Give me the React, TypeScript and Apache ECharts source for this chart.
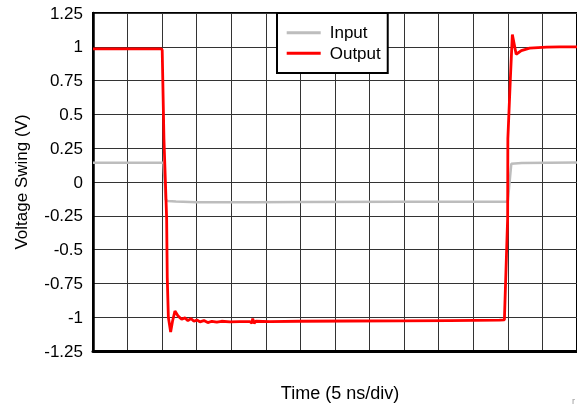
import React, { useEffect, useRef } from "react";
import * as echarts from "echarts";

const yTicks = [-1.25, -1, -0.75, -0.5, -0.25, 0, 0.25, 0.5, 0.75, 1, 1.25];

// time in ns (5 ns/div), value in V
const inputTime = [0, 10.2, 10.5, 10.8, 12, 15, 30, 45, 59.7, 60.0, 60.5, 62, 70];
const inputValue = [0.142, 0.142, -0.13, -0.14, -0.145, -0.15, -0.148, -0.147, -0.146, -0.14, 0.135, 0.14, 0.145];

const outputTime = [
  0, 9.9, 10.01, 10.26, 10.65, 10.74, 10.9, 11.23, 11.5, 11.85, 12.28, 12.82, 13.29, 13.73, 14.16,
  14.6, 15.03, 15.46, 16.04, 16.6, 17.2, 17.9, 18.6, 19.8, 21.2, 22.7, 22.98, 23.1, 23.3, 23.55,
  25.6, 29.9, 37.1, 44.4, 51.6, 58.8, 59.5, 59.97, 60.0, 60.36, 60.65, 61.2, 61.95, 63.15, 65.6,
  67.5, 70,
];
const outputValue = [
  0.985, 0.985, 0.975, 0.319, -0.267, -0.707, -1.0, -1.11, -1.03, -0.955, -0.99, -1.015, -1.005,
  -1.025, -1.01, -1.03, -1.02, -1.035, -1.025, -1.04, -1.03, -1.037, -1.03, -1.035, -1.033, -1.033,
  -1.045, -1.01, -1.045, -1.03, -1.032, -1.03, -1.028, -1.027, -1.025, -1.022, -1.02, -0.267, 0.319,
  0.76, 1.09, 0.945, 0.972, 0.99, 0.998, 1.0, 1.0,
];

const FONT = "'Liberation Sans', Arial, Helvetica, sans-serif";

export default function App() {
  const ref = useRef<HTMLDivElement>(null);
  useEffect(() => {
    if (!ref.current) return;
    const chart = echarts.init(ref.current, undefined, { renderer: "svg" });
    chart.setOption({
      animation: false,
      textStyle: { fontFamily: FONT },
      grid: {
        left: 93,
        top: 13,
        width: 484,
        height: 341,
        show: true,
        borderColor: "#000",
        borderWidth: 2,
      },
      legend: {
        orient: "vertical",
        left: 277,
        top: 13,
        backgroundColor: "#fff",
        borderColor: "#000",
        borderWidth: 2,
        padding: [9.7, 7, 9.7, 9.7],
        itemGap: 0.6,
        icon: "rect",
        itemWidth: 34,
        itemHeight: 3,
        textStyle: { fontSize: 17, color: "#000", lineHeight: 20, padding: [0, 0, 0, 4], fontFamily: FONT },
        data: ["Input", "Output"],
      },
      xAxis: {
        type: "value",
        min: 0,
        max: 70,
        interval: 5,
        name: "Time (5 ns/div)",
        nameLocation: "middle",
        nameGap: 33,
        nameTextStyle: { fontSize: 18, color: "#000", fontFamily: FONT, padding: [0, 0, 0, 10] },
        axisLabel: { show: false },
        axisTick: { show: false },
        axisLine: { show: true, onZero: false, lineStyle: { color: "#000", width: 3 } },
        splitLine: { show: true, lineStyle: { color: "#333", width: 1 } },
      },
      yAxis: {
        type: "value",
        min: yTicks[0],
        max: yTicks[yTicks.length - 1],
        interval: 0.25,
        name: "Voltage Swing (V)",
        nameLocation: "middle",
        nameGap: 63,
        nameTextStyle: { fontSize: 17, color: "#000", fontFamily: FONT },
        axisLabel: { fontSize: 17, color: "#000", margin: 10, fontFamily: FONT },
        axisTick: { show: false },
        axisLine: { show: true, onZero: false, lineStyle: { color: "#000", width: 2.5 } },
        splitLine: { show: true, lineStyle: { color: "#333", width: 1 } },
      },
      graphic: [
        {
          type: "text",
          left: 572,
          top: 396,
          style: { text: "r", fontSize: 9, fill: "#999", fontFamily: FONT },
        },
      ],
      series: [
        {
          name: "Input",
          type: "line",
          showSymbol: false,
          symbol: "none",
          color: "#bdbdbd",
          lineStyle: { color: "#bdbdbd", width: 2.5 },
          data: inputTime.map((t, i) => [t, inputValue[i]]),
        },
        {
          name: "Output",
          type: "line",
          showSymbol: false,
          symbol: "none",
          color: "#ff0000",
          lineStyle: { color: "#ff0000", width: 2.8 },
          data: outputTime.map((t, i) => [t, outputValue[i]]),
        },
      ],
    });
    return () => chart.dispose();
  }, []);
  return <div ref={ref} style={{ position: "fixed", left: 0, top: 0, width: 577, height: 407 }} />;
}
